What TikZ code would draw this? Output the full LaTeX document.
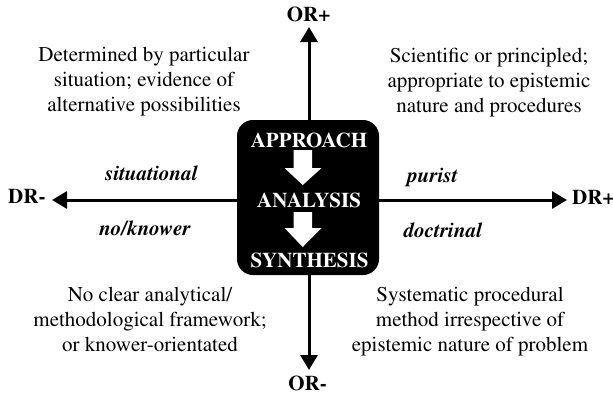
\documentclass[tikz,border=0pt]{standalone}
\usepackage[T1]{fontenc}
\usepackage{mathptmx}
\usetikzlibrary{arrows.meta}
\begin{document}
\begin{tikzpicture}[x=1pt,y=-1pt,
  txt/.style={font=\fontsize{21}{25}\selectfont, inner sep=0pt, align=center, anchor=north},
  lab/.style={font=\fontsize{21}{25}\selectfont\bfseries, inner sep=0pt, anchor=base},
  ital/.style={font=\fontsize{21}{25}\selectfont\bfseries\itshape, inner sep=0pt, anchor=base},
  boxtxt/.style={font=\fontsize{21}{25}\selectfont\bfseries, text=white, inner sep=0pt, anchor=base},
  axis/.style={line width=3pt, -{Triangle[length=15pt,width=17pt]}},
  blockarrow/.style={fill=white, draw=none}
]
\useasboundingbox (0,0) rectangle (613,397);
\coordinate (c) at (309,200);
\coordinate (top) at (309,27);
\coordinate (bot) at (309,370);
\coordinate (lft) at (52,200);
\coordinate (rgt) at (567,200);
\draw[axis] (c) -- (top);
\draw[axis] (c) -- (bot);
\draw[axis] (c) -- (lft);
\draw[axis] (c) -- (rgt);
\node[lab] (orp) at (308.5,21) {OR+};
\node[lab] (orm) at (307.5,390) {OR-};
\node[lab, anchor=base west] (drm) at (8,203) {DR-};
\node[lab, anchor=base west] (drp) at (572,204) {DR+};
\node[ital] (sit) at (151.5,180) {situational};
\node[ital] (nok) at (145,235) {no/knower};
\node[ital] (pur) at (432.5,182) {purist};
\node[ital] (doc) at (443,237) {doctrinal};
\node[txt] (tl) at (144,47.5) {Determined by particular\\situation; evidence of\\alternative possibilities};
\node[txt] (tr) at (489,48.5) {Scientific or principled;\\appropriate to epistemic\\nature and procedures};
\node[txt] (bl) at (150,287.5) {No clear analytical/\\methodological framework;\\or knower-orientated};
\node[txt] (br) at (470,287.5) {Systematic procedural\\method irrespective of\\epistemic nature of problem};
\fill[rounded corners=16pt] (237,120) rectangle (379,275);
\node[boxtxt] (app) at (309,147) {APPROACH};
\node[boxtxt] (ana) at (309,207) {ANALYSIS};
\node[boxtxt] (syn) at (309.5,267) {SYNTHESIS};
\fill[blockarrow] (293.5,150) -- (312,150) -- (312,168) -- (321.5,168) -- (302.75,185) -- (284.5,168) -- (293.5,168) -- cycle;
\fill[blockarrow] (293.5,212) -- (312,212) -- (312,228) -- (321.5,228) -- (302.75,247) -- (284.5,228) -- (293.5,228) -- cycle;
\end{tikzpicture}
\end{document}
